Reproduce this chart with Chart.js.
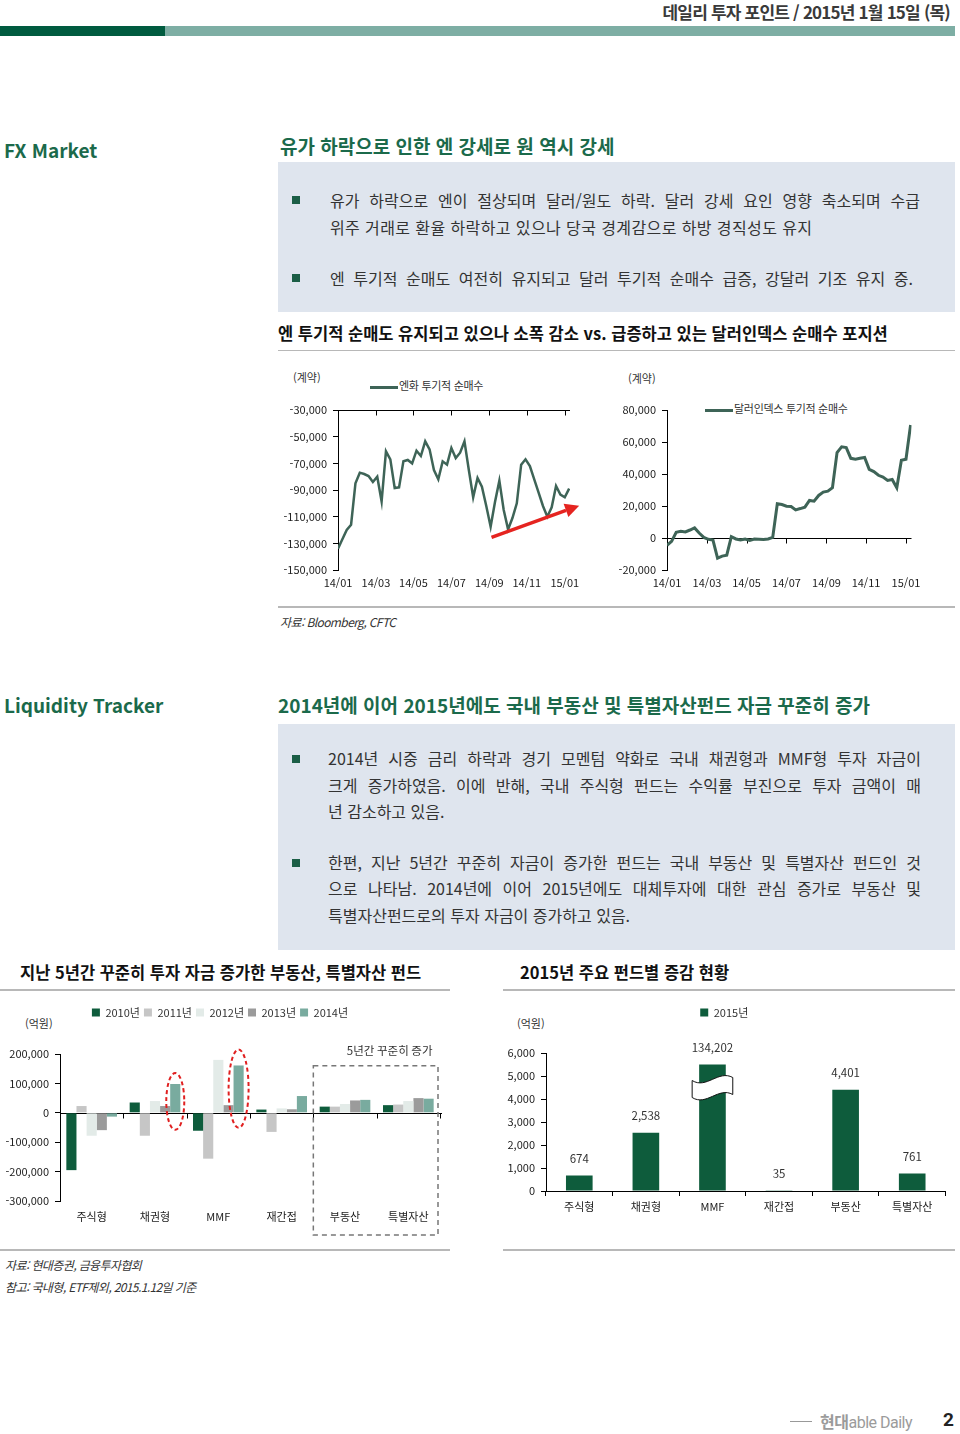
<!DOCTYPE html>
<html lang="ko">
<head>
<meta charset="utf-8">
<script src="https://cdn.jsdelivr.net/npm/chart.js@4.4.1/dist/chart.umd.min.js"></script>
<style>
  body { margin: 0; width: 960px; height: 1434px; position: relative; overflow: hidden; background: #fff;
         font-family: 'Noto Sans CJK KR', sans-serif; color: #222; }
  .abs { position: absolute; }
  .green { color: #1b6a4b; font-weight: bold; }
  .box { background: #dfe5ee; }
  .bul { width: 8px; height: 8px; background: #1b5e46; }
  .txt { font-size: 16px; line-height: 24px; color: #333; white-space: nowrap; }
  .jus { width: 590px; text-align: justify; text-align-last: justify; white-space: normal; }
  .sub { font-size: 16.5px; line-height: 24px; font-weight: bold; color: #111; white-space: nowrap; }
  .src { font-size: 12px; line-height: 16px; font-style: italic; color: #333; letter-spacing: -0.6px; }
  .unit { font-size: 11px; line-height: 14px; color: #333; }
  .leg { font-size: 11px; line-height: 16px; color: #333; letter-spacing: -0.3px; white-space: nowrap; }
  .ln { display: inline-block; width: 28px; height: 3px; background: #3e6457; vertical-align: middle; margin-right: 1px; }
  .rule { background: #b8b8b8; }
</style>
</head>
<body>

<div class="abs" style="right:10px;top:0;font-size:17px;line-height:24px;font-weight:bold;color:#3a3a3a;letter-spacing:-0.8px;">데일리 투자 포인트 / 2015년 1월 15일 (목)</div>
<div class="abs" style="left:0;top:26px;width:165px;height:10px;background:#005b3f"></div>
<div class="abs" style="left:165px;top:26px;width:790px;height:10px;background:#7eaea4"></div>

<div class="abs green" style="left:4px;top:136px;font-size:19px;line-height:28px;">FX Market</div>
<div class="abs green" style="left:280px;top:132px;font-size:19px;line-height:28px;">유가 하락으로 인한 엔 강세로 원 역시 강세</div>

<div class="abs box" style="left:278px;top:162px;width:677px;height:150px"></div>
<div class="abs bul" style="left:292px;top:196px"></div>
<div class="abs txt jus" style="left:330px;top:188px">유가 하락으로 엔이 절상되며 달러/원도 하락. 달러 강세 요인 영향 축소되며 수급</div>
<div class="abs txt" style="left:330px;top:215px;letter-spacing:0.4px">위주 거래로 환율 하락하고 있으나 당국 경계감으로 하방 경직성도 유지</div>
<div class="abs bul" style="left:292px;top:274px"></div>
<div class="abs txt jus" style="left:330px;top:266px;width:583px">엔 투기적 순매도 여전히 유지되고 달러 투기적 순매수 급증, 강달러 기조 유지 중.</div>

<div class="abs sub" style="left:278px;top:321px">엔 투기적 순매도 유지되고 있으나 소폭 감소 vs. 급증하고 있는 달러인덱스 순매수 포지션</div>
<div class="abs rule" style="left:278px;top:350px;width:677px;height:1px"></div>

<div class="abs unit" style="left:293px;top:370px">(계약)</div>
<div class="abs leg" style="left:370px;top:377px"><span class="ln"></span>엔화 투기적 순매수</div>
<div class="abs" style="left:280px;top:365px;width:320px;height:235px"><canvas id="yenChart"></canvas></div>

<div class="abs unit" style="left:628px;top:371px">(계약)</div>
<div class="abs leg" style="left:705px;top:400px"><span class="ln"></span>달러인덱스 투기적 순매수</div>
<div class="abs" style="left:610px;top:365px;width:320px;height:235px"><canvas id="dollarChart"></canvas></div>

<div class="abs rule" style="left:278px;top:606px;width:677px;height:2px"></div>
<div class="abs src" style="left:280px;top:614px">자료: Bloomberg, CFTC</div>

<div class="abs green" style="left:4px;top:691px;font-size:19px;line-height:28px;">Liquidity Tracker</div>
<div class="abs green" style="left:278px;top:691px;font-size:19px;line-height:28px;">2014년에 이어 2015년에도 국내 부동산 및 특별자산펀드 자금 꾸준히 증가</div>

<div class="abs box" style="left:278px;top:724px;width:677px;height:226px"></div>
<div class="abs bul" style="left:292px;top:755px"></div>
<div class="abs txt jus" style="left:328px;top:746px;width:593px">2014년 시중 금리 하락과 경기 모멘텀 약화로 국내 채권형과 MMF형 투자 자금이</div>
<div class="abs txt jus" style="left:328px;top:773px;width:593px">크게 증가하였음. 이에 반해, 국내 주식형 펀드는 수익률 부진으로 투자 금액이 매</div>
<div class="abs txt" style="left:328px;top:799px">년 감소하고 있음.</div>
<div class="abs bul" style="left:292px;top:859px"></div>
<div class="abs txt jus" style="left:328px;top:850px;width:593px">한편, 지난 5년간 꾸준히 자금이 증가한 펀드는 국내 부동산 및 특별자산 펀드인 것</div>
<div class="abs txt jus" style="left:328px;top:876px;width:593px">으로 나타남. 2014년에 이어 2015년에도 대체투자에 대한 관심 증가로 부동산 및</div>
<div class="abs txt" style="left:328px;top:903px">특별자산펀드로의 투자 자금이 증가하고 있음.</div>

<div class="abs sub" style="left:20px;top:960px">지난 5년간 꾸준히 투자 자금 증가한 부동산, 특별자산 펀드</div>
<div class="abs sub" style="left:520px;top:960px">2015년 주요 펀드별 증감 현황</div>
<div class="abs rule" style="left:0;top:989px;width:450px;height:2px"></div>
<div class="abs rule" style="left:503px;top:989px;width:452px;height:2px"></div>

<div class="abs unit" style="left:25px;top:1016px">(억원)</div>
<div class="abs" style="left:0;top:995px;width:450px;height:245px"><canvas id="flowChart"></canvas></div>
<div class="abs unit" style="left:517px;top:1016px">(억원)</div>
<div class="abs" style="left:503px;top:995px;width:452px;height:230px"><canvas id="flow2015Chart"></canvas></div>

<div class="abs rule" style="left:0;top:1249px;width:450px;height:2px"></div>
<div class="abs rule" style="left:503px;top:1249px;width:452px;height:2px"></div>
<div class="abs src" style="left:5px;top:1257px">자료: 현대증권, 금융투자협회</div>
<div class="abs src" style="left:5px;top:1279px">참고: 국내형, ETF제외, 2015.1.12일 기준</div>

<div class="abs" style="left:790px;top:1421px;width:22px;height:1px;background:#999"></div>
<div class="abs" style="left:820px;top:1410px;font-size:16px;line-height:22px;color:#9b9b9b;font-weight:bold;letter-spacing:-0.5px">현대<span style="font-family:Roboto,sans-serif;font-weight:normal">able Daily</span></div>
<div class="abs" style="left:943px;top:1409px;font-size:19px;line-height:22px;font-weight:bold;color:#222;font-family:Roboto,sans-serif">2</div>

<script>
// weekly CFTC positions, 2014/01 ~ 2015/01
var weekTicks = [0, 8.7, 17.3, 26, 34.7, 43.3, 52];
var monthLabels = ['14/01', '14/03', '14/05', '14/07', '14/09', '14/11', '15/01'];
var yenNet = [-134000, -127000, -120000, -116000, -85000, -77000, -78000, -79500, -84000, -80000,
  -98500, -61000, -67000, -88500, -88000, -68500, -67500, -70000, -60500, -64500,
  -53500, -59500, -75000, -82000, -68500, -71000, -58500, -66000, -62000, -53500,
  -75000, -95500, -81000, -87500, -102000, -117500, -99000, -83000, -105000, -119500,
  -111000, -100000, -71000, -67000, -72000, -82000, -92000, -102000, -110000, -103000,
  -87000, -93500, -95500, -89000];
var dollarNet = [-4600, -2100, 3600, 4200, 3800, 5000, 6300, 3100, 400, -800,
  -1300, -12600, -11300, -10700, 800, -600, -1300, -600, -1500, -600,
  -800, -1000, -600, 400, 21400, 20900, 19900, 19700, 17600, 18400,
  19300, 23500, 23000, 26600, 28700, 29300, 31400, 53400, 57000, 56500,
  49800, 49200, 49800, 50300, 42900, 41500, 39200, 38100, 36000, 36600,
  31400, 48600, 49200, 70600];
var trendArrow = [[35.2, -125500], [55.3, -101750]];

// fund flows (억원)
var fundTypes = ['주식형', '채권형', 'MMF', '재간접', '부동산', '특별자산'];
var fundYears = ['2010년', '2011년', '2012년', '2013년', '2014년'];
var flow2010 = [-195000, 35000, -61000, 11000, 21000, 26000];
var flow2011 = [23000, -78000, -156000, -65000, 21000, 28000];
var flow2012 = [-78000, 40000, 180000, 15000, 30000, 40000];
var flow2013 = [-59000, 23000, 26000, 12000, 42000, 50000];
var flow2014 = [-13000, 98000, 161000, 57000, 44000, 48000];
var flow2015 = [674, 2538, 134202, 35, 4401, 761];
var axisCap = 5500;   // MMF bar is cut here (axis break)
var breakAt = 4500;

var flowColors = ['#0e5c3c', '#c6c6c6', '#e3ebe8', '#9b9b9b', '#79ab9f'];
var lineColor = '#3e6457';
var numFont = '"Liberation Sans Narrow", "Noto Sans CJK KR", sans-serif';

Chart.defaults.font.family = numFont;
Chart.defaults.font.size = 11;
Chart.defaults.color = '#222';
Chart.defaults.animation = false;

function fmt(v) { return Number(v).toLocaleString('en-US'); }

function legendHeight(h) {
  return {
    id: 'legendHeight',
    beforeInit: function (chart) {
      var fit = chart.legend.fit;
      chart.legend.fit = function () { fit.call(this); this.height = h; };
    },
  };
}

// horizontal axis line drawn at a given y value, tick marks hanging below it
var crossAxis = {
  id: 'crossAxis',
  beforeDatasetsDraw: function (chart) {
    var opts = chart.options.plugins.crossAxis;
    if (!opts) return;
    var x = chart.scales.x, y = chart.scales.y, ctx = chart.ctx, area = chart.chartArea;
    var py = Math.round(y.getPixelForValue(opts.value)) + 0.5;
    var marks = [];
    if (opts.mode === 'bounds') {
      for (var i = 0; i <= chart.data.labels.length; i++) marks.push(x.getPixelForValue(i - 0.5));
    } else {
      x.ticks.forEach(function (t) { marks.push(x.getPixelForValue(t.value)); });
    }
    ctx.save();
    ctx.strokeStyle = '#000';
    ctx.lineWidth = 1;
    ctx.beginPath();
    ctx.moveTo(area.left, py);
    ctx.lineTo(area.right + (opts.extend || 0), py);
    marks.forEach(function (px) {
      px = Math.round(px) + 0.5;
      ctx.moveTo(px, py);
      ctx.lineTo(px, py + 5);
    });
    ctx.stroke();
    ctx.restore();
  },
};

function lineOptions(yMin, yMax, yStep, xMax, leftW, padRight, cross) {
  return {
    responsive: true,
    maintainAspectRatio: false,
    layout: { padding: { top: 45, right: padRight, left: 0, bottom: 0 } },
    plugins: {
      legend: { display: false },
      tooltip: { enabled: false },
      crossAxis: { value: cross, mode: 'ticks' },
    },
    scales: {
      x: {
        type: 'linear', min: 0, max: xMax,
        afterBuildTicks: function (s) { s.ticks = weekTicks.map(function (v) { return { value: v }; }); },
        afterFit: function (s) { s.height = 30; },
        ticks: { autoSkip: false, maxRotation: 0, padding: 6,
          callback: function (v, i) { return monthLabels[i]; } },
        grid: { display: false, drawTicks: false },
        border: { display: false },
      },
      y: {
        min: yMin, max: yMax,
        afterFit: function (s) { s.width = leftW; },
        ticks: { stepSize: yStep, padding: 6, callback: fmt },
        grid: { drawOnChartArea: false, drawTicks: true, tickLength: 5, color: '#000' },
        border: { color: '#000', width: 1 },
      },
    },
  };
}

function weekPoints(values) {
  return values.map(function (v, i) { return { x: i, y: v }; });
}

var trendPlugin = {
  id: 'trendArrow',
  afterDatasetsDraw: function (chart) {
    var x = chart.scales.x, y = chart.scales.y, ctx = chart.ctx;
    var x0 = x.getPixelForValue(trendArrow[0][0]), y0 = y.getPixelForValue(trendArrow[0][1]);
    var x1 = x.getPixelForValue(trendArrow[1][0]), y1 = y.getPixelForValue(trendArrow[1][1]);
    var ang = Math.atan2(y1 - y0, x1 - x0), head = 14;
    var hx = x1 - head * Math.cos(ang), hy = y1 - head * Math.sin(ang);
    ctx.save();
    ctx.strokeStyle = '#e52420';
    ctx.fillStyle = '#e52420';
    ctx.lineWidth = 3.5;
    ctx.beginPath();
    ctx.moveTo(x0, y0);
    ctx.lineTo(hx, hy);
    ctx.stroke();
    ctx.beginPath();
    ctx.moveTo(x1, y1);
    ctx.lineTo(hx + 7 * Math.sin(ang), hy - 7 * Math.cos(ang));
    ctx.lineTo(hx - 7 * Math.sin(ang), hy + 7 * Math.cos(ang));
    ctx.closePath();
    ctx.fill();
    ctx.restore();
  },
};

new Chart(document.getElementById('yenChart'), {
  type: 'line',
  plugins: [crossAxis, trendPlugin],
  data: {
    datasets: [{ label: '엔화 투기적 순매수', data: weekPoints(yenNet), borderColor: lineColor,
      borderWidth: 2.5, pointRadius: 0, tension: 0, fill: false }],
  },
  options: lineOptions(-150000, -30000, 20000, 53.2, 58, 30, -30000),
});

new Chart(document.getElementById('dollarChart'), {
  type: 'line',
  plugins: [crossAxis],
  data: {
    datasets: [{ label: '달러인덱스 투기적 순매수', data: weekPoints(dollarNet), borderColor: lineColor,
      borderWidth: 3, pointRadius: 0, tension: 0, fill: false }],
  },
  options: lineOptions(-20000, 80000, 20000, 53.2, 57, 18.5, 0),
});

// red dashed ellipses, dashed box around the steady-growth funds
var flowNotes = {
  id: 'flowNotes',
  afterDatasetsDraw: function (chart) {
    var x = chart.scales.x, y = chart.scales.y, ctx = chart.ctx, area = chart.chartArea;
    var last = chart.getDatasetMeta(fundYears.length - 1);
    ctx.save();
    ctx.strokeStyle = '#e02020';
    ctx.lineWidth = 2;
    ctx.setLineDash([4, 3]);
    [[1, 135000, -58000, 9], [2, 215000, -51000, 10]].forEach(function (e) {
      var bar = last.data[e[0]];
      var top = y.getPixelForValue(e[1]), bot = y.getPixelForValue(e[2]);
      ctx.beginPath();
      ctx.ellipse(bar.x, (top + bot) / 2, e[3], (bot - top) / 2, 0, 0, Math.PI * 2);
      ctx.stroke();
    });
    var left = x.getPixelForValue(3.5), right = x.getPixelForValue(5.5) - 2;
    var top = y.getPixelForValue(160000), bottom = area.bottom + 34;
    ctx.strokeStyle = '#777';
    ctx.lineWidth = 1.5;
    ctx.setLineDash([5, 4]);
    ctx.strokeRect(left, top, right - left, bottom - top);
    ctx.setLineDash([]);
    ctx.fillStyle = '#333';
    ctx.font = '11.5px "Noto Sans CJK KR", sans-serif';
    ctx.textAlign = 'center';
    ctx.textBaseline = 'middle';
    ctx.fillText('5년간 꾸준히 증가', (left + right) / 2 + 14, y.getPixelForValue(210000));
    ctx.restore();
  },
};

new Chart(document.getElementById('flowChart'), {
  type: 'bar',
  plugins: [legendHeight(51), crossAxis, flowNotes],
  data: {
    labels: fundTypes,
    datasets: [flow2010, flow2011, flow2012, flow2013, flow2014].map(function (vals, i) {
      return { label: fundYears[i], data: vals, backgroundColor: flowColors[i], borderWidth: 0,
        categoryPercentage: 0.8, barPercentage: 1.0 };
    }),
  },
  options: {
    responsive: true,
    maintainAspectRatio: false,
    layout: { padding: { top: 8, right: 10, left: 0, bottom: 0 } },
    plugins: {
      tooltip: { enabled: false },
      legend: {
        position: 'top',
        labels: { boxWidth: 8, boxHeight: 8, padding: 4, color: '#333', font: { size: 11 } },
      },
      crossAxis: { value: 0, extend: 2, mode: 'bounds' },
    },
    scales: {
      x: {
        afterFit: function (s) { s.height = 39; },
        ticks: { padding: 9, color: '#222', font: { size: 11 } },
        grid: { display: false, drawTicks: false },
        border: { display: false },
      },
      y: {
        min: -300000, max: 200000,
        afterFit: function (s) { s.width = 60; },
        ticks: { stepSize: 100000, padding: 6, callback: fmt },
        grid: { drawOnChartArea: false, drawTicks: true, tickLength: 5, color: '#000' },
        border: { color: '#000', width: 1 },
      },
    },
  },
});

function drawBreak(ctx, cx, cy, hw, hh) {
  var x0 = cx - hw, x1 = cx + hw, w = x1 - x0;
  ctx.beginPath();
  ctx.moveTo(x0, cy - hh + 3);
  ctx.bezierCurveTo(x0 + w * 0.35, cy - hh + 12, x0 + w * 0.65, cy - hh - 8, x1, cy - hh);
  ctx.lineTo(x1, cy + hh - 3);
  ctx.bezierCurveTo(x0 + w * 0.65, cy + hh - 11, x0 + w * 0.35, cy + hh + 9, x0, cy + hh);
  ctx.closePath();
  ctx.fillStyle = '#fff';
  ctx.fill();
  ctx.strokeStyle = '#111';
  ctx.lineWidth = 1;
  ctx.stroke();
}

var valueLabels = {
  id: 'valueLabels',
  afterDatasetsDraw: function (chart) {
    var ctx = chart.ctx, ys = chart.scales.y, meta = chart.getDatasetMeta(0);
    ctx.save();
    meta.data.forEach(function (bar, i) {
      if (flow2015[i] > axisCap) {
        drawBreak(ctx, bar.x, ys.getPixelForValue(breakAt), bar.width / 2 + 7, 10);
      }
      ctx.fillStyle = '#333';
      ctx.font = '11.5px ' + numFont;
      ctx.textAlign = 'center';
      ctx.textBaseline = 'middle';
      ctx.fillText(fmt(flow2015[i]), bar.x, bar.y - 17);
    });
    ctx.restore();
  },
};

new Chart(document.getElementById('flow2015Chart'), {
  type: 'bar',
  plugins: [legendHeight(51), valueLabels],
  data: {
    labels: fundTypes,
    datasets: [{
      label: '2015년',
      data: flow2015.map(function (v) { return Math.min(v, axisCap); }),
      backgroundColor: '#0e5c3c', borderWidth: 0,
      categoryPercentage: 1.0, barPercentage: 0.4,
    }],
  },
  options: {
    responsive: true,
    maintainAspectRatio: false,
    layout: { padding: { top: 7, right: 9.5, left: 0, bottom: 0 } },
    plugins: {
      tooltip: { enabled: false },
      legend: {
        position: 'top',
        labels: { boxWidth: 8, boxHeight: 8, padding: 5, color: '#333', font: { size: 11 } },
      },
    },
    scales: {
      x: {
        afterFit: function (s) { s.height = 34; },
        ticks: { padding: 4, color: '#222', font: { size: 11 } },
        grid: { drawOnChartArea: false, drawTicks: true, tickLength: 5, color: '#000', offset: true },
        border: { color: '#000', width: 1 },
      },
      y: {
        min: 0, max: 6000,
        afterFit: function (s) { s.width = 43; },
        ticks: { stepSize: 1000, padding: 6, callback: fmt },
        grid: { drawOnChartArea: false, drawTicks: true, tickLength: 5, color: '#000' },
        border: { color: '#000', width: 1 },
      },
    },
  },
});
</script>
</body>
</html>
